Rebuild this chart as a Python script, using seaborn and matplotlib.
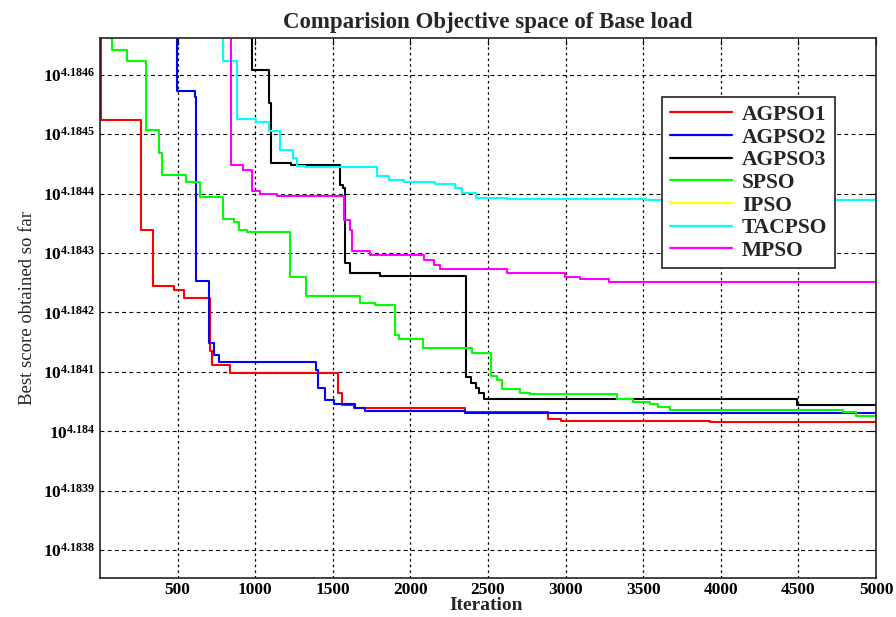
import numpy as np
import pandas as pd
import matplotlib
matplotlib.use("Agg")
import matplotlib.pyplot as plt
import seaborn as sns
from matplotlib.ticker import FixedLocator, NullLocator

# iteration where each step starts, and log10 of best score from there on
agpso1_it = [1, 5, 262, 341, 476, 541, 710, 720, 837, 1532, 1560, 1634, 2353, 2889, 2969, 3930, 5000]
agpso1_e = [4.1849, 4.184524, 4.184339, 4.184245, 4.184238, 4.184225, 4.184135, 4.184111, 4.184098,
            4.184065, 4.184044, 4.184039, 4.184033, 4.184021, 4.184018, 4.184016, 4.184016]

agpso2_it = [1, 498, 611, 620, 701, 734, 766, 1394, 1403, 1452, 1506, 1645, 1710, 2353, 5000]
agpso2_e = [4.1849, 4.184573, 4.184563, 4.184253, 4.184149, 4.184129, 4.184116, 4.184103, 4.184073,
            4.184052, 4.184046, 4.184039, 4.184034, 4.184031, 4.184031]

agpso3_it = [1, 981, 1088, 1103, 1230, 1549, 1568, 1577, 1613, 1806, 2358, 2388, 2420, 2445, 2471, 4491, 5000]
agpso3_e = [4.1849, 4.184608, 4.184552, 4.184451, 4.184448, 4.184415, 4.184409, 4.184283, 4.184266,
            4.184262, 4.184091, 4.184081, 4.184073, 4.184064, 4.184054, 4.184044, 4.184044]

spso_it = [1, 43, 80, 172, 299, 380, 397, 551, 642, 794, 862, 894, 949, 1227, 1330, 1678, 1774, 1898,
           1924, 2081, 2396, 2521, 2557, 2593, 2707, 2772, 3329, 3436, 3544, 3597, 3672, 4788, 4874, 5000]
spso_e = [4.1849, 4.184662, 4.184641, 4.184624, 4.184507, 4.184468, 4.184432, 4.184420, 4.184394,
          4.184358, 4.184353, 4.184339, 4.184336, 4.184260, 4.184228, 4.184216, 4.184213, 4.184162,
          4.184155, 4.184141, 4.184131, 4.184093, 4.184087, 4.184071, 4.184065, 4.184062, 4.184055,
          4.184050, 4.184046, 4.184041, 4.184036, 4.184032, 4.184026, 4.184026]

# IPSO never comes into the visible range
ipso_it = [1, 5000]
ipso_e = [4.1852, 4.1850]

tacpso_it = [1, 794, 880, 1002, 1092, 1158, 1242, 1270, 1324, 1785, 1860, 1956, 2160, 2290, 2330,
             2420, 2620, 3520, 5000]
tacpso_e = [4.1849, 4.184624, 4.184526, 4.184520, 4.184505, 4.184474, 4.184460, 4.184447, 4.184445,
            4.184430, 4.184423, 4.184420, 4.184416, 4.184410, 4.184401, 4.184393, 4.184391, 4.184390,
            4.184390]

mpso_it = [1, 847, 923, 981, 1034, 1142, 1570, 1613, 1624, 1742, 2085, 2149, 2192, 2622, 2996, 3090,
           3280, 5000]
mpso_e = [4.1849, 4.184448, 4.184440, 4.184404, 4.184399, 4.184396, 4.184356, 4.184339, 4.184303,
          4.184296, 4.184289, 4.184280, 4.184273, 4.184266, 4.184260, 4.184257, 4.184252, 4.184252]

names = ['AGPSO1', 'AGPSO2', 'AGPSO3', 'SPSO', 'IPSO', 'TACPSO', 'MPSO']
colors = ['#ff0000', '#0000ff', '#000000', '#00ff00', '#ffff00', '#00ffff', '#ff00ff']
series = [(agpso1_it, agpso1_e), (agpso2_it, agpso2_e), (agpso3_it, agpso3_e), (spso_it, spso_e),
          (ipso_it, ipso_e), (tacpso_it, tacpso_e), (mpso_it, mpso_e)]

ytick_exp = [4.1838, 4.1839, 4.184, 4.1841, 4.1842, 4.1843, 4.1844, 4.1845, 4.1846]
xticks = [500, 1000, 1500, 2000, 2500, 3000, 3500, 4000, 4500, 5000]

sns.set_style('white')
plt.rcParams['font.family'] = ['Liberation Serif', 'DejaVu Serif']
plt.rcParams['mathtext.fontset'] = 'custom'
plt.rcParams['mathtext.rm'] = 'Liberation Serif'
plt.rcParams['mathtext.bf'] = 'Liberation Serif:bold'

fig = plt.figure(figsize=(8.96, 6.17), dpi=100)
ax = fig.add_axes([0.1116, 0.0632, 0.8661, 0.8752])

for name, col, (it, e) in zip(names, colors, series):
    df = pd.DataFrame({'iteration': it, 'score': 10 ** np.array(e)})
    sns.lineplot(data=df, x='iteration', y='score', color=col, label=name,
                 drawstyle='steps-post', linewidth=1.5, ax=ax)

ax.set_yscale('log')
ax.set_xlim(0, 5000)
ax.set_ylim(10 ** 4.183753, 10 ** 4.184662)

ax.yaxis.set_major_locator(FixedLocator([10 ** v for v in ytick_exp]))
ax.yaxis.set_minor_locator(NullLocator())
ax.set_yticklabels([r'$\mathbf{10^{%s}}$' % ('%g' % v) for v in ytick_exp])
ax.set_xticks(xticks)
ax.set_xticklabels([str(t) for t in xticks], fontweight='bold')

ax.tick_params(axis='both', direction='in', length=5, labelsize=12.5, colors='k',
               top=True, right=True)
ax.tick_params(axis='x', pad=3)
ax.xaxis.grid(True, color='k', linestyle=(0, (2, 2.5)), linewidth=0.9)
ax.yaxis.grid(True, color='k', linestyle=(0, (3.5, 3)), linewidth=0.8)
for sp in ax.spines.values():
    sp.set_color('#222222')
    sp.set_linewidth(1.2)

ax.set_title('Comparision Objective space of Base load', fontsize=16.5, fontweight='bold', pad=7)
ax.set_xlabel('Iteration', fontsize=14, fontweight='bold')
ax.xaxis.set_label_coords(0.497, -0.036)
ax.set_ylabel('Best score obtained so far', fontsize=13.5, labelpad=5)

leg = ax.legend(loc='upper left', bbox_to_anchor=(0.7246, 0.890), borderaxespad=0,
                fancybox=False, frameon=True, edgecolor='#222222', framealpha=1,
                prop={'family': 'Liberation Serif', 'weight': 'bold', 'size': 15.5},
                handlelength=2.9, labelspacing=0.12, borderpad=0.35, handletextpad=0.45)
leg.get_frame().set_linewidth(1.2)
for ln in leg.get_lines():
    ln.set_linewidth(1.6)

fig.savefig('out.png', dpi=100)
